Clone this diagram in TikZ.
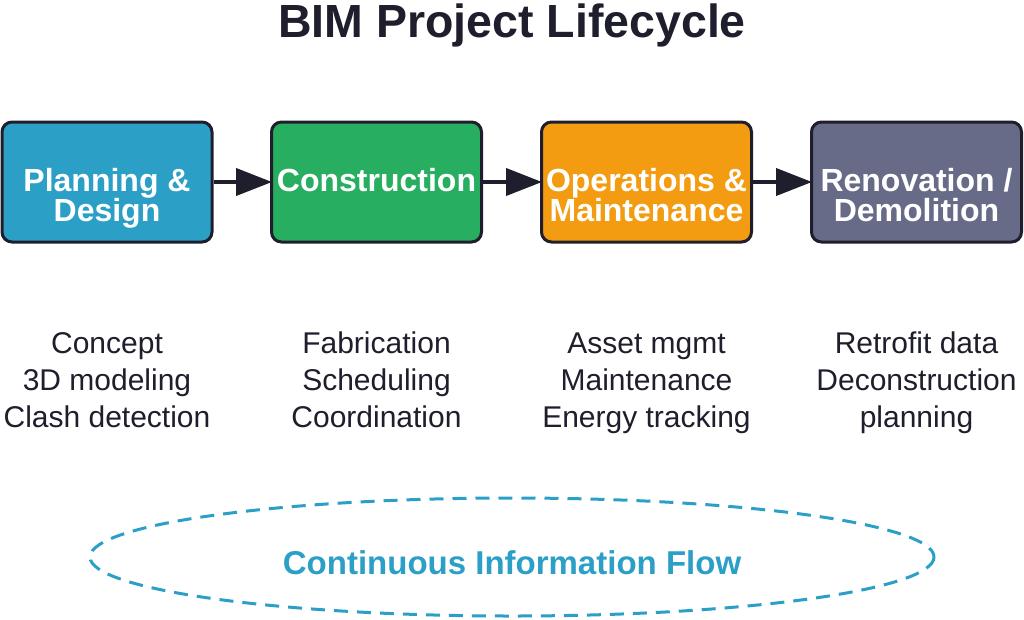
\documentclass[tikz,border=0pt]{standalone}
\usepackage{fontspec}
\setmainfont{Liberation Sans}
\usetikzlibrary{arrows.meta}
\definecolor{dark}{HTML}{1E1E2C}
\definecolor{cblue}{HTML}{2C9FC7}
\definecolor{cgreen}{HTML}{27AE60}
\definecolor{corange}{HTML}{F39C12}
\definecolor{cgray}{HTML}{686B88}
\tikzset{
  phase/.style={draw=dark, line width=3pt, rounded corners=10pt, minimum width=210pt, minimum height=120pt, inner sep=0pt},
  phasetext/.style={text=white, font=\fontsize{32}{30}\selectfont\bfseries, align=center, anchor=base, inner sep=0pt},
  desc/.style={text=dark, font=\fontsize{30}{37}\selectfont, align=center, anchor=base, inner sep=0pt},
  flow/.style={draw=dark, line width=4pt, -{Triangle[length=36pt,width=27pt]}, shorten >=-2pt}
}
\begin{document}
\begin{tikzpicture}[x=1pt,y=-1pt]
\useasboundingbox (0,0) rectangle (1024,619);
\node[text=dark, font=\fontsize{46.5}{50}\selectfont\bfseries, anchor=base, inner sep=0pt] (title) at (512,37) {BIM Project Lifecycle};

\node[phase, fill=cblue] (b1) at (107,182) {};
\node[phase, fill=cgreen] (b2) at (376.5,182) {};
\node[phase, fill=corange] (b3) at (646.5,182) {};
\node[phase, fill=cgray] (b4) at (916.5,182) {};

\node[phasetext] (t1) at (107,221) {Planning \&\\Design};
\node[phasetext] (t2) at (376.5,191) {Construction};
\node[phasetext] (t3) at (646.5,221) {Operations \&\\Maintenance};
\node[phasetext] (t4) at (916.5,221) {Renovation /\\Demolition};

\draw[flow] (b1.east) -- (b2.west);
\draw[flow] (b2.east) -- (b3.west);
\draw[flow] (b3.east) -- (b4.west);

\node[desc] (d1) at (107,427) {Concept\\3D modeling\\Clash detection};
\node[desc] (d2) at (376.5,427) {Fabrication\\Scheduling\\Coordination};
\node[desc] (d3) at (646.5,427) {Asset mgmt\\Maintenance\\Energy tracking};
\node[desc] (d4) at (916.5,427) {Retrofit data\\Deconstruction\\planning};

\draw[cblue, line width=3pt, dash pattern=on 14pt off 9pt] (512,557) ellipse [x radius=422, y radius=59];
\node[text=cblue, font=\fontsize{33}{36}\selectfont\bfseries, anchor=base, inner sep=0pt] (flowlabel) at (512,574) {Continuous Information Flow};
\end{tikzpicture}
\end{document}
